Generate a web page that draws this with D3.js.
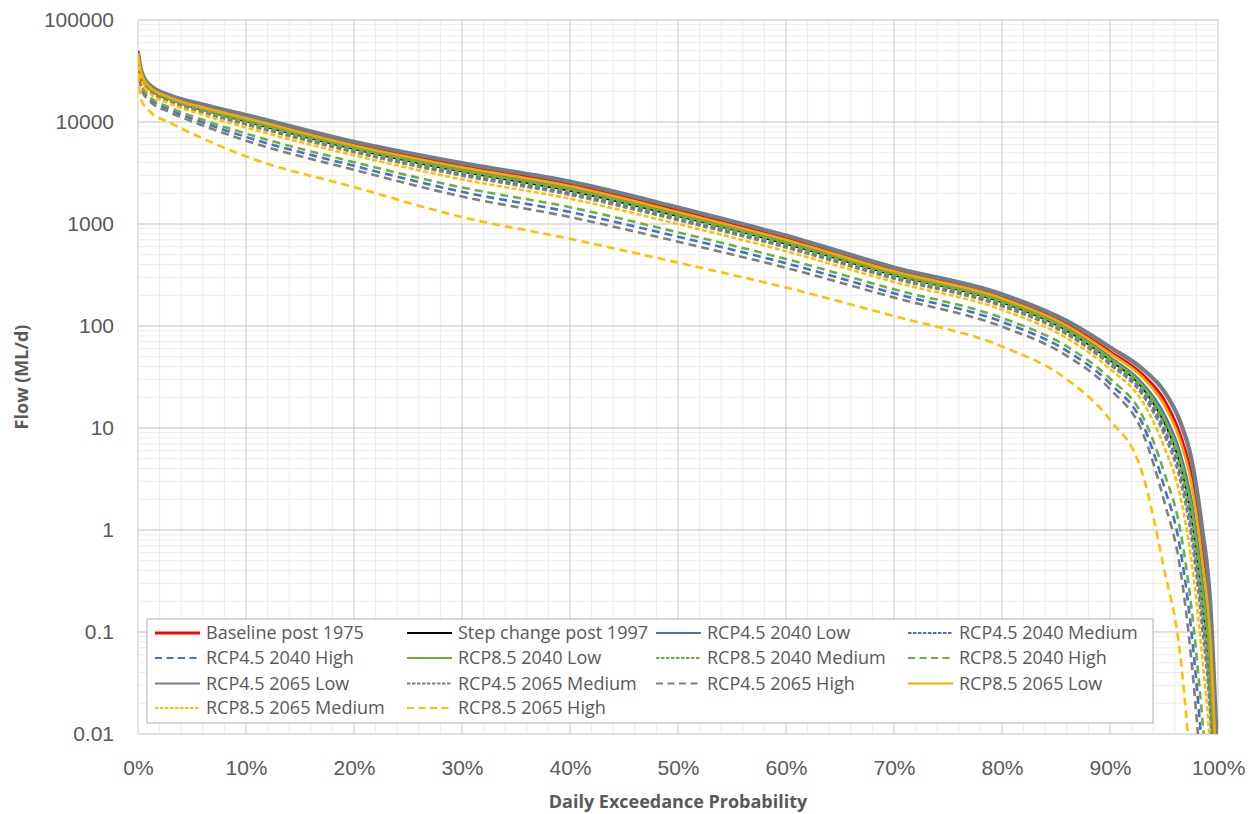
<!DOCTYPE html>
<html>
<head>
<meta charset="utf-8">
<script src="https://cdn.jsdelivr.net/npm/d3@7"></script>
<style>
  html, body { margin: 0; padding: 0; background: #ffffff; }
  svg { display: block; font-family: "Open Sans", "Liberation Sans", sans-serif; }
</style>
</head>
<body>
<svg id="chart" width="1259" height="814"></svg>
<script>
// Daily exceedance probability (%) at which each flow value is read
const probs = [0, 0.3, 1, 3, 6, 10, 20, 30, 40, 50, 60, 70, 80, 86, 90, 93, 95, 96.5, 97.5, 98.5, 99.3, 100];

// Flow (ML/d) for each scenario at the probabilities above
const baselinePost1975 = [50000, 31000, 22800, 17700, 14200, 11200, 6090, 3720, 2440, 1360, 725, 355, 193, 103, 56, 33.5, 19, 8.6, 3.6, 0.7, 0.11, 0.0024];
const stepChangePost1997 = [44500, 28800, 21400, 16500, 13100, 10070, 5430, 3250, 2110, 1190, 638, 315, 170, 90, 46.2, 24.7, 11.4, 4.4, 1.46, 0.23, 0.030, 0.0007];
const rcp45_2040Low = [45600, 29700, 22000, 17000, 13600, 10600, 5720, 3460, 2250, 1270, 677, 333, 180, 96, 49.6, 27.5, 13.8, 5.7, 2.07, 0.36, 0.051, 0.0012];
const rcp45_2040Medium = [43700, 28000, 20900, 16100, 12700, 9710, 5220, 3090, 2010, 1131, 609, 301, 162, 86, 43.7, 22.7, 9.7, 3.6, 1.1, 0.16, 0.019, 0.0005];
const rcp45_2040High = [37400, 22500, 17200, 13100, 9890, 7140, 3720, 2070, 1310, 751, 413, 209, 110, 57, 27.3, 11.1, 2.7, 0.66, 0.11, 0.0076, 0.0005, 0.00001];
const rcp85_2040Low = [45100, 29400, 21800, 16800, 13400, 10350, 5600, 3370, 2200, 1234, 661, 325, 176, 94, 48.3, 26.4, 12.7, 5.1, 1.8, 0.30, 0.041, 0.001];
const rcp85_2040Medium = [44300, 28600, 21200, 16400, 13000, 9980, 5380, 3210, 2090, 1173, 630, 311, 168, 89, 45.5, 24.2, 10.9, 4.2, 1.36, 0.21, 0.027, 0.0007];
const rcp85_2040High = [38800, 23700, 18000, 13800, 10500, 7700, 4040, 2280, 1460, 828, 454, 229, 120, 63, 30.6, 13.2, 3.7, 1.0, 0.19, 0.016, 0.0013, 0.00003];
const rcp45_2065Low = [48000, 32000, 23500, 18200, 14800, 11700, 6400, 3950, 2600, 1450, 770, 375, 205, 112, 62, 38, 23, 11.5, 5.2, 1.1, 0.18, 0.004];
const rcp45_2065Medium = [43100, 27500, 20500, 15800, 12400, 9440, 5060, 2980, 1930, 1090, 588, 291, 156, 83, 41.8, 21.2, 8.7, 3.1, 0.9, 0.12, 0.014, 0.00035];
const rcp45_2065High = [35900, 21200, 16300, 12400, 9240, 6560, 3400, 1860, 1170, 670, 372, 190, 98.6, 51, 24, 9.1, 1.94, 0.42, 0.058, 0.0033, 0.0002, 0.00001];
const rcp85_2065Low = [47000, 30300, 22400, 17300, 13900, 10900, 5890, 3590, 2350, 1310, 700, 343, 187, 101, 54, 31.5, 17, 7.5, 3.0, 0.55, 0.08, 0.0017];
const rcp85_2065Medium = [41700, 26200, 19700, 15100, 11800, 8830, 4710, 2740, 1770, 999, 541, 270, 144, 76, 37.9, 18.2, 6.6, 2.15, 0.54, 0.063, 0.0065, 0.00017];
const rcp85_2065High = [30000, 16500, 13000, 9800, 6900, 4600, 2300, 1170, 716, 418, 238, 125, 63, 30, 12, 3.6, 0.42, 0.06, 0.004, 0.0001, 0.000003, 0.0000001];

// Axis tick labels
const yTickValues = [0.01, 0.1, 1, 10, 100, 1000, 10000, 100000];
const yTickLabels = ["0.01", "0.1", "1", "10", "100", "1000", "10000", "100000"];
const xTickValues = [0, 10, 20, 30, 40, 50, 60, 70, 80, 90, 100];
const xTickLabels = ["0%", "10%", "20%", "30%", "40%", "50%", "60%", "70%", "80%", "90%", "100%"];

const RED = "#ff0000", BLACK = "#000000", BLUE = "#4472c4", GREEN = "#70ad47",
      GREY = "#6f7d8c", GREY_D = "#7f7f7f", ORANGE = "#f5a800", GOLD = "#ffc000";
const MED = "5,2.5", HIGH = "8,5";

// Series in legend order (also drawing order)
const series = [
  { name: "Baseline post 1975", values: baselinePost1975, color: RED, width: 3, dash: null },
  { name: "Step change post 1997", values: stepChangePost1997, color: BLACK, width: 1.7, dash: null },
  { name: "RCP4.5 2040 Low", values: rcp45_2040Low, color: BLUE, width: 2.5, dash: null },
  { name: "RCP4.5 2040 Medium", values: rcp45_2040Medium, color: BLUE, width: 2.6, dash: MED },
  { name: "RCP4.5 2040 High", values: rcp45_2040High, color: BLUE, width: 2.6, dash: HIGH },
  { name: "RCP8.5 2040 Low", values: rcp85_2040Low, color: GREEN, width: 2.5, dash: null },
  { name: "RCP8.5 2040 Medium", values: rcp85_2040Medium, color: GREEN, width: 2.6, dash: MED },
  { name: "RCP8.5 2040 High", values: rcp85_2040High, color: GREEN, width: 2.6, dash: HIGH },
  { name: "RCP4.5 2065 Low", values: rcp45_2065Low, color: GREY, width: 4.2, dash: null },
  { name: "RCP4.5 2065 Medium", values: rcp45_2065Medium, color: GREY_D, width: 2.6, dash: MED },
  { name: "RCP4.5 2065 High", values: rcp45_2065High, color: GREY_D, width: 2.6, dash: HIGH },
  { name: "RCP8.5 2065 Low", values: rcp85_2065Low, color: ORANGE, width: 2.7, dash: null },
  { name: "RCP8.5 2065 Medium", values: rcp85_2065Medium, color: GOLD, width: 2.6, dash: MED },
  { name: "RCP8.5 2065 High", values: rcp85_2065High, color: GOLD, width: 2.6, dash: HIGH }
];

const svg = d3.select("#chart");
const plot = { left: 138, top: 20, right: 1218, bottom: 734 };

const x = d3.scaleLinear().domain([0, 100]).range([plot.left, plot.right]);
const y = d3.scaleLog().domain([0.01, 100000]).range([plot.bottom, plot.top]);

// Gridlines: minor first, then major
const grid = svg.append("g");
const minorX = d3.range(0, 101, 2).filter(v => v % 10 !== 0);
grid.selectAll(".vminor").data(minorX).join("line")
  .attr("x1", d => x(d)).attr("x2", d => x(d))
  .attr("y1", plot.top).attr("y2", plot.bottom)
  .attr("stroke", "#ececec").attr("stroke-width", 1);

const minorY = [];
for (let e = -2; e < 5; e++) for (let m = 2; m <= 9; m++) minorY.push(m * Math.pow(10, e));
grid.selectAll(".hminor").data(minorY).join("line")
  .attr("x1", plot.left).attr("x2", plot.right)
  .attr("y1", d => y(d)).attr("y2", d => y(d))
  .attr("stroke", "#ececec").attr("stroke-width", 1);

grid.selectAll(".vmajor").data(xTickValues).join("line")
  .attr("x1", d => x(d)).attr("x2", d => x(d))
  .attr("y1", plot.top).attr("y2", plot.bottom)
  .attr("stroke", "#d6d6d6").attr("stroke-width", 1.3);
grid.selectAll(".hmajor").data(yTickValues).join("line")
  .attr("x1", plot.left).attr("x2", plot.right)
  .attr("y1", d => y(d)).attr("y2", d => y(d))
  .attr("stroke", "#d6d6d6").attr("stroke-width", 1.3);

// Axes (labels only)
const yAxis = d3.axisLeft(y).tickValues(yTickValues)
  .tickFormat((d, i) => yTickLabels[i]).tickSize(0).tickPadding(24);
svg.append("g").attr("transform", `translate(${plot.left},0)`).call(yAxis)
  .call(g => g.select(".domain").remove())
  .call(g => g.selectAll("text").attr("fill", "#595959").style("font-size", "21px"));

const xAxis = d3.axisBottom(x).tickValues(xTickValues)
  .tickFormat((d, i) => xTickLabels[i]).tickSize(0).tickPadding(26);
svg.append("g").attr("transform", `translate(0,${plot.bottom})`).call(xAxis)
  .call(g => g.select(".domain").remove())
  .call(g => g.selectAll("text").attr("fill", "#595959").style("font-size", "21px"));

// Axis titles
svg.append("text")
  .attr("x", (plot.left + plot.right) / 2).attr("y", 808)
  .attr("text-anchor", "middle").attr("fill", "#595959")
  .style("font-size", "18px").style("font-weight", "bold")
  .text("Daily Exceedance Probability");
svg.append("text")
  .attr("transform", `translate(28,${(plot.top + plot.bottom) / 2}) rotate(-90)`)
  .attr("text-anchor", "middle").attr("fill", "#595959")
  .style("font-size", "18px").style("font-weight", "bold")
  .text("Flow (ML/d)");

// Curves, clipped to the plot area
svg.append("clipPath").attr("id", "plot-clip").append("rect")
  .attr("x", plot.left).attr("y", plot.top)
  .attr("width", plot.right - plot.left).attr("height", plot.bottom - plot.top);

const line = d3.line()
  .x(d => x(d.p)).y(d => y(d.v))
  .curve(d3.curveMonotoneX);

const curves = svg.append("g").attr("clip-path", "url(#plot-clip)");
series.forEach(s => {
  const pts = probs.map((p, i) => ({ p, v: s.values[i] }));
  curves.append("path")
    .attr("d", line(pts))
    .attr("fill", "none")
    .attr("stroke", s.color)
    .attr("stroke-width", s.width)
    .attr("stroke-dasharray", s.dash)
    .attr("stroke-linejoin", "round");
});

// Legend box
const legend = { x: 147, y: 619, w: 1006, h: 104 };
svg.append("rect")
  .attr("x", legend.x).attr("y", legend.y)
  .attr("width", legend.w).attr("height", legend.h)
  .attr("fill", "#ffffff").attr("stroke", "#bfbfbf").attr("stroke-width", 1.2);

const colX = [155, 407, 656, 908];
const rowY = [633, 658, 683.5, 708];
const lg = svg.append("g");
series.forEach((s, i) => {
  const cx = colX[i % 4], cy = rowY[Math.floor(i / 4)];
  lg.append("line")
    .attr("x1", cx).attr("x2", cx + 45).attr("y1", cy).attr("y2", cy)
    .attr("stroke", s.color)
    .attr("stroke-width", s.width === 3 ? 3 : 2)
    .attr("stroke-dasharray", s.dash === MED ? "3.5,1.5" : (s.dash === HIGH ? "7,4.5" : null));
  lg.append("text")
    .attr("x", cx + 51).attr("y", cy).attr("dy", "0.35em")
    .attr("fill", "#595959").style("font-size", "18px")
    .text(s.name);
});
</script>
</body>
</html>
